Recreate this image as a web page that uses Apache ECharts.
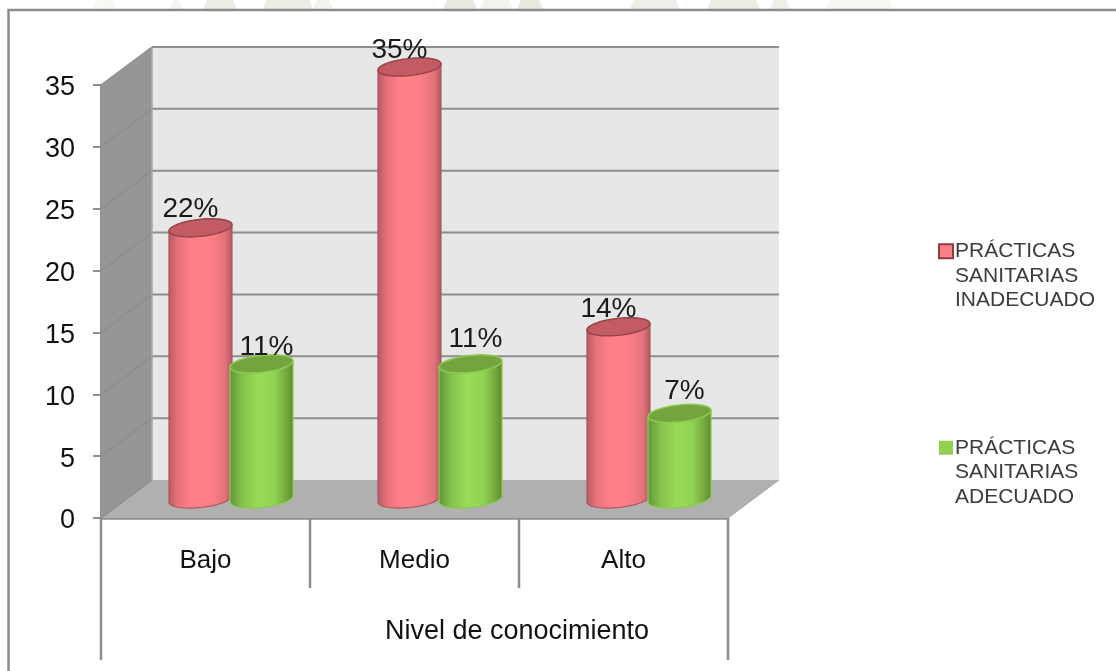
<!DOCTYPE html>
<html><head><meta charset="utf-8">
<style>html,body{margin:0;padding:0;background:#fff}#c{width:1116px;height:671px}</style>
<script src="https://cdn.jsdelivr.net/npm/echarts@6/dist/echarts.min.js"></script>
</head><body><div id="c"></div>
<script>
const categories = ['Bajo','Medio','Alto'];
const inadecuado = [22,35,14];
const adecuado = [11,11,7];
const nameInadecuado = 'PRÁCTICAS\nSANITARIAS\nINADECUADO';
const nameAdecuado = 'PRÁCTICAS\nSANITARIAS\nADECUADO';
const yTicks = [0,5,10,15,20,25,30,35];
const groupTitle = 'Nivel de conocimiento';

const FONT = '"Liberation Sans", Arial, sans-serif';
const DX = 51, DY = -38;
const LINE = '#8e8e8e';
const SHEAR = 0.1;

function wallItem(params, api) {
  const lastCat = categories.length - 1;
  const band = api.size([1,0])[0];
  const zero = api.coord([0, 0]);
  const top = api.coord([0, 35]);
  const xL = zero[0] - band/2, xR = api.coord([lastCat,0])[0] + band/2;
  const yB = zero[1], yT = top[1];
  const kids = [];
  kids.push({type:'polygon',shape:{points:[[xL+DX,yT+DY],[xR+DX,yT+DY],[xR+DX,yB+DY],[xL+DX,yB+DY]]},style:{fill:'#e7e7e7'}});
  kids.push({type:'polygon',shape:{points:[[xL,yT],[xL+DX,yT+DY],[xL+DX,yB+DY],[xL,yB]]},style:{fill:'#969696'}});
  kids.push({type:'polygon',shape:{points:[[xL,yB],[xL+DX,yB+DY],[xR+DX,yB+DY],[xR,yB]]},style:{fill:'#b0b0b0'}});
  yTicks.forEach(t => {
    const y = api.coord([0,t])[1];
    if (t > 0) kids.push({type:'line',shape:{x1:xL+DX,y1:y+DY,x2:xR+DX,y2:y+DY},style:{stroke:LINE,lineWidth:2}});
    kids.push({type:'line',shape:{x1:xL,y1:y,x2:xL+DX,y2:y+DY},style:{stroke:LINE,lineWidth:1.5}});
  });
  kids.push({type:'line',shape:{x1:xL+DX,y1:yT+DY,x2:xL+DX,y2:yB+DY},style:{stroke:'#a8a8a8',lineWidth:1.5}});
  kids.push({type:'line',shape:{x1:xR,y1:yB,x2:xR+DX,y2:yB+DY},style:{stroke:'#a8a8a8',lineWidth:1}});
  for (let i=0;i<=categories.length;i++) {
    const x = xL + i*band;
    const outer = i===0 || i===categories.length;
    kids.push({type:'line',shape:{x1:x,y1:yB,x2:x,y2:yB+(outer?142:70)},style:{stroke:LINE,lineWidth:2.5}});
  }
  return {type:'group',children:kids};
}

function ell(cx,cy,rx,ry,a0,a1,n){
  const p=[];
  for(let i=0;i<=n;i++){
    const t=a0+(a1-a0)*i/n;
    const x=rx*Math.cos(t);
    p.push([cx+x,cy+ry*Math.sin(t)-SHEAR*x]);
  }
  return p;
}

function cylinder(side, c) {
  return function(params, api){
    const band = api.size([1,0])[0];
    const v = api.value(1);
    const base = api.coord([api.value(0),0]);
    const topP = api.coord([api.value(0),v]);
    const cx = base[0] + DX/2 + side*band*0.146;
    const by = base[1] + DY/2;
    const ty = topP[1] + DY/2 + 1;
    const rx = 31.5, ry = 8.5;
    const bottomArc = ell(cx,by,rx,ry,Math.PI,0,40);
    const outline = [[cx-rx,ty+SHEAR*rx]].concat(bottomArc,[[cx+rx,ty-SHEAR*rx]]);
    return {type:'group',children:[
      {type:'polygon',shape:{points:outline},style:{
        fill:new echarts.graphic.LinearGradient(0,0,1,0,c.stops),stroke:c.edge,lineWidth:1.2}},
      {type:'polygon',shape:{points:ell(cx,ty,rx,ry,0,Math.PI*2,60)},style:{fill:c.top,stroke:c.topEdge,lineWidth:1.5}},
      {type:'text',z2:10,x:cx+c.labelDx,y:ty-19+c.labelDy[params.dataIndex],style:{text:v+'%',fill:'#1a1a1a',font:'28px '+FONT,align:'center',verticalAlign:'middle'}}
    ]};
  };
}

const red = {edge:'#b0565c',topEdge:'#97434a',top:'#c25c62',labelDx:-10,labelDy:[0,2,1],stops:[
  {offset:0,color:'#b45a62'},{offset:0.15,color:'#e8727a'},{offset:0.35,color:'#ff7f88'},{offset:0.65,color:'#ff7f88'},{offset:0.88,color:'#e2737b'},{offset:1,color:'#ad555c'}]};
const green = {edge:'#8ccb4e',topEdge:'#8ccb4e',top:'#74a43f',labelDx:5,labelDy:[2,-6,-3],stops:[
  {offset:0,color:'#62933a'},{offset:0.2,color:'#85c14c'},{offset:0.45,color:'#97dc56'},{offset:0.7,color:'#90d352'},{offset:0.88,color:'#76aa40'},{offset:1,color:'#5a8a30'}]};

// faint remnants of the page watermark above the frame
const watermark = [[93,117,'#f8f8f5'],[170,183,'#f4f4f0'],[203,237,'#eceee5'],[263,313,'#eceee5'],[313,333,'#f4f4ef'],
  [443,477,'#e8eae0'],[480,513,'#f3f3ee'],[517,543,'#e8eadf'],[630,680,'#efefe9'],[707,760,'#ecede5'],[770,790,'#eeefe7'],[826,893,'#f6f6f2']];
const markGraphics = watermark.map(w=>({type:'polygon',z:-2,silent:true,
  shape:{points:[[w[0]+4,0],[w[1]-4,0],[w[1],9],[w[0],9]]},style:{fill:w[2]}}));

const chart = echarts.init(document.getElementById('c'), null, {renderer:'canvas'});
chart.setOption({
  animation:false,
  backgroundColor:'#ffffff',
  textStyle:{fontFamily:FONT},
  grid:{left:101,right:388,top:85,bottom:153,containLabel:false},
  xAxis:{type:'category',data:categories,
    axisLine:{lineStyle:{color:LINE,width:2.5}},axisTick:{show:false},
    axisLabel:{color:'#111',fontSize:26,margin:30,fontFamily:FONT},splitLine:{show:false}},
  yAxis:{type:'value',min:0,max:35,interval:5,
    axisLine:{show:true,lineStyle:{color:LINE,width:2}},
    axisTick:{show:true,length:8,lineStyle:{color:LINE,width:2}},
    axisLabel:{margin:26,formatter:'{t|{value}}',rich:{t:{color:'#111',fontSize:27,fontFamily:FONT,padding:[6,0,0,0]}}},splitLine:{show:false}},
  title:{text:groupTitle,left:385,top:618,padding:0,textStyle:{fontSize:27,fontWeight:'normal',color:'#111',fontFamily:FONT}},
  legend:{orient:'vertical',left:938,top:190,itemGap:74,itemWidth:14,itemHeight:14,padding:0,
    formatter:n=>'\n\n'+n,
    textStyle:{fontSize:21,lineHeight:24.5,color:'#3c3c3c',padding:[0,0,0,-3],fontFamily:FONT},
    data:[
      {name:nameInadecuado,icon:'rect',itemStyle:{color:'#ff7f88',borderColor:'#8f3a40',borderWidth:2}},
      {name:nameAdecuado,icon:'rect',itemStyle:{color:'#92d050',borderWidth:0}}
    ]},
  graphic:markGraphics.concat([{type:'rect',z:-1,shape:{x:8.5,y:10,width:1200,height:800},style:{fill:'none',stroke:'#8c8c8c',lineWidth:2.5}}]),
  series:[
    {type:'custom',name:'walls',silent:true,z:1,coordinateSystem:'cartesian2d',data:[[0,0]],renderItem:wallItem,clip:false},
    {type:'custom',name:nameInadecuado,z:2,coordinateSystem:'cartesian2d',encode:{x:0,y:1},
      itemStyle:{color:'#ff7f88'},
      data:inadecuado.map((v,i)=>[i,v]),renderItem:cylinder(-1,red)},
    {type:'custom',name:nameAdecuado,z:3,coordinateSystem:'cartesian2d',encode:{x:0,y:1},
      itemStyle:{color:'#92d050'},
      data:adecuado.map((v,i)=>[i,v]),renderItem:cylinder(1,green)}
  ]
});
</script></body></html>
